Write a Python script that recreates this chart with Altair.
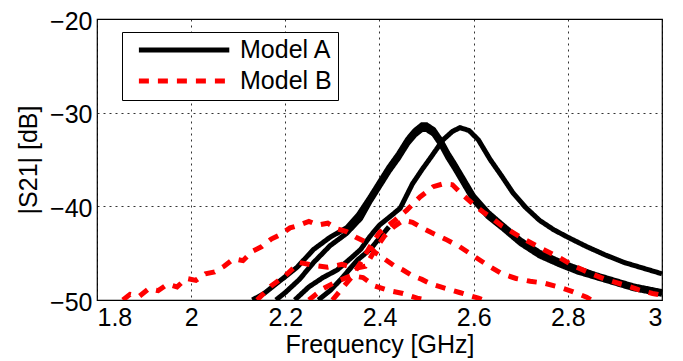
import altair as alt
import pandas as pd

# ---- data ----
# Model A (black, solid)
a1_f = [2.13, 2.155, 2.19, 2.225, 2.26, 2.295, 2.33, 2.355, 2.38, 2.40, 2.42, 2.44, 2.46, 2.475,
        2.49, 2.50, 2.515, 2.53, 2.545, 2.56, 2.58, 2.60, 2.63, 2.66, 2.70, 2.74, 2.78, 2.82,
        2.86, 2.90, 2.94, 2.97, 3.00]
a1_db = [-50.0, -49.3, -47.9, -46.5, -44.6, -43.3, -42.3, -40.9, -39.0, -37.4, -35.8, -34.4,
         -32.8, -31.9, -31.3, -31.3, -31.8, -32.9, -34.3, -35.5, -37.2, -38.9, -40.6, -41.9,
         -43.6, -44.9, -45.8, -46.6, -47.3, -47.9, -48.5, -48.8, -49.1]

a1b_f = [2.18, 2.20, 2.23, 2.26, 2.295, 2.33, 2.36, 2.38, 2.40, 2.42, 2.44, 2.46, 2.475, 2.49,
         2.50, 2.515, 2.53, 2.545, 2.56, 2.58, 2.60, 2.63, 2.66, 2.70, 2.74, 2.78, 2.82, 2.86,
         2.90, 2.94, 2.97, 3.00]
a1b_db = [-50.0, -49.2, -47.8, -46.0, -44.2, -42.9, -41.3, -39.5, -37.9, -36.3, -34.9, -33.3,
          -32.4, -31.8, -31.8, -32.3, -33.4, -34.8, -36.0, -37.7, -39.4, -41.1, -42.3, -44.0,
          -45.3, -46.2, -47.0, -47.6, -48.2, -48.8, -49.1, -49.4]

a2_f = [2.22, 2.25, 2.28, 2.31, 2.34, 2.36, 2.38, 2.40, 2.42, 2.444, 2.47, 2.49, 2.51, 2.535,
        2.555, 2.571, 2.59, 2.61, 2.635, 2.66, 2.684, 2.71, 2.74, 2.77, 2.80, 2.84, 2.88,
        2.92, 2.96, 3.00]
a2_db = [-50.0, -48.6, -47.6, -46.8, -45.5, -44.6, -43.2, -42.0, -41.2, -40.2, -37.6, -36.1,
         -34.7, -32.9, -32.0, -31.6, -31.9, -32.9, -35.0, -36.8, -38.6, -40.1, -41.5, -42.5,
         -43.3, -44.3, -45.2, -46.0, -46.6, -47.2]

a3_f = [2.27, 2.295, 2.316, 2.335, 2.354, 2.38, 2.40, 2.42]
a3_db = [-50.0, -49.0, -47.9, -46.8, -45.7, -44.6, -43.4, -42.2]

# Model B (red, dashed)
b1_f = [1.855, 1.87, 1.89, 1.91, 1.93, 1.95, 1.97, 1.99, 2.01, 2.03, 2.05, 2.07, 2.09, 2.11,
        2.13, 2.15, 2.17, 2.19, 2.21, 2.23, 2.25, 2.27, 2.29, 2.31, 2.33, 2.35, 2.37, 2.39,
        2.41, 2.43, 2.45, 2.47, 2.49, 2.51, 2.53, 2.55, 2.57, 2.59, 2.61, 2.62]
b1_db = [-50.0, -49.4, -49.6, -48.8, -49.0, -48.3, -48.6, -47.7, -47.9, -47.2, -47.0, -46.4,
         -45.6, -45.8, -44.8, -44.3, -43.5, -43.0, -42.3, -42.0, -41.6, -42.0, -41.8, -42.4,
         -42.7, -43.3, -43.8, -44.9, -45.6, -46.3, -46.8, -47.4, -47.8, -48.3, -48.6, -48.9,
         -49.2, -49.5, -49.8, -50.0]

b2_f = [2.14, 2.17, 2.20, 2.23, 2.26, 2.29, 2.32, 2.35, 2.37, 2.39, 2.41, 2.43, 2.45, 2.47,
        2.49, 2.51, 2.54, 2.57, 2.60, 2.63, 2.66, 2.69, 2.72, 2.75, 2.78, 2.81, 2.84, 2.85]
b2_db = [-50.0, -48.5, -47.4, -46.0, -46.3, -46.5, -46.2, -46.6, -46.4, -44.7, -43.2, -42.2,
         -41.5, -41.7, -42.3, -42.8, -43.5, -44.3, -45.3, -46.3, -47.2, -47.7, -48.0, -48.2,
         -48.6, -49.1, -49.7, -50.0]

b3_f = [2.30, 2.32, 2.34, 2.36, 2.38, 2.40, 2.43, 2.458, 2.486, 2.514, 2.535, 2.555, 2.577,
        2.60, 2.62, 2.64, 2.66, 2.70, 2.74, 2.78, 2.81, 2.85, 2.88, 2.92, 2.95, 2.98, 3.00]
b3_db = [-50.0, -48.8, -47.6, -46.0, -44.3, -42.8, -41.6, -40.4, -39.0, -37.9, -37.6, -37.7,
         -38.8, -39.8, -40.6, -41.3, -42.1, -43.3, -44.4, -45.4, -46.3, -47.2, -47.8, -48.4,
         -48.9, -49.3, -49.5]

b4_f = [2.25, 2.28, 2.31, 2.34, 2.365, 2.39, 2.42, 2.45, 2.48, 2.50]
b4_db = [-50.0, -48.8, -48.0, -47.4, -47.6, -48.5, -49.0, -49.3, -49.8, -50.0]

curves = [
    ("A1", "Model A", a1_f, a1_db),
    ("A1b", "Model A", a1b_f, a1b_db),
    ("A2", "Model A", a2_f, a2_db),
    ("A3", "Model A", a3_f, a3_db),
    ("B1", "Model B", b1_f, b1_db),
    ("B2", "Model B", b2_f, b2_db),
    ("B3", "Model B", b3_f, b3_db),
    ("B4", "Model B", b4_f, b4_db),
]

rows = []
for cid, model, fs, dbs in curves:
    for i, (f, d) in enumerate(zip(fs, dbs)):
        rows.append({"curve": cid, "model": model, "f": f, "db": d, "i": i})
df = pd.DataFrame(rows)

x_ticks = [1.8, 2.0, 2.2, 2.4, 2.6, 2.8, 3.0]
y_ticks = [-50, -40, -30, -20]
FONT = "Liberation Sans"

x = alt.X("f:Q", scale=alt.Scale(domain=[1.8, 3.0], nice=False, zero=False),
          axis=alt.Axis(values=x_ticks, format="~g", title="Frequency [GHz]",
                        labelPadding=5, titlePadding=2))
y = alt.Y("db:Q", scale=alt.Scale(domain=[-50, -20], nice=False, zero=False),
          axis=alt.Axis(values=y_ticks, title="|S21| [dB]", labelPadding=5, titlePadding=8,
                        labelOffset=2))
color = alt.Color("model:N", scale=alt.Scale(domain=["Model A", "Model B"],
                                             range=["#000000", "#ff0000"]),
                  legend=alt.Legend(title=None, orient="none", legendX=25, legendY=13,
                                    symbolType="M-0.2,0H11.1", symbolSize=256,
                                    symbolStrokeWidth=5, labelFontSize=25, labelFont=FONT,
                                    strokeColor="#000000", fillColor="white", padding=6,
                                    labelOffset=87, rowPadding=6, clipHeight=24))
dash = alt.StrokeDash("model:N", scale=alt.Scale(domain=["Model A", "Model B"],
                                                 range=[[1, 0], [10, 9]]),
                      legend=None)

base = alt.Chart(df).mark_line(strokeWidth=5, clip=True, strokeCap="butt").encode(
    x=x, y=y, color=color, strokeDash=dash, detail="curve:N", order="i:Q")

black = base.transform_filter(alt.datum.model == "Model A")
red = base.transform_filter(alt.datum.model == "Model B")

chart = alt.layer(black, red).properties(
    width=565, height=281,
    autosize=alt.AutoSizeParams(type="none"),
    padding={"left": 89, "top": 11, "right": 10, "bottom": 62},
).configure_view(stroke="#000000", strokeWidth=1.2).configure_axis(
    labelFont=FONT, titleFont=FONT, labelFontSize=25, titleFontSize=25,
    titleFontWeight="normal", labelColor="#000000", titleColor="#000000",
    grid=True, gridColor="#000000", gridDash=[2, 4], gridOpacity=0.8, gridWidth=1,
    domain=False, ticks=False,
)

chart.save("out.html", embed_options={"renderer": "svg", "actions": False})
